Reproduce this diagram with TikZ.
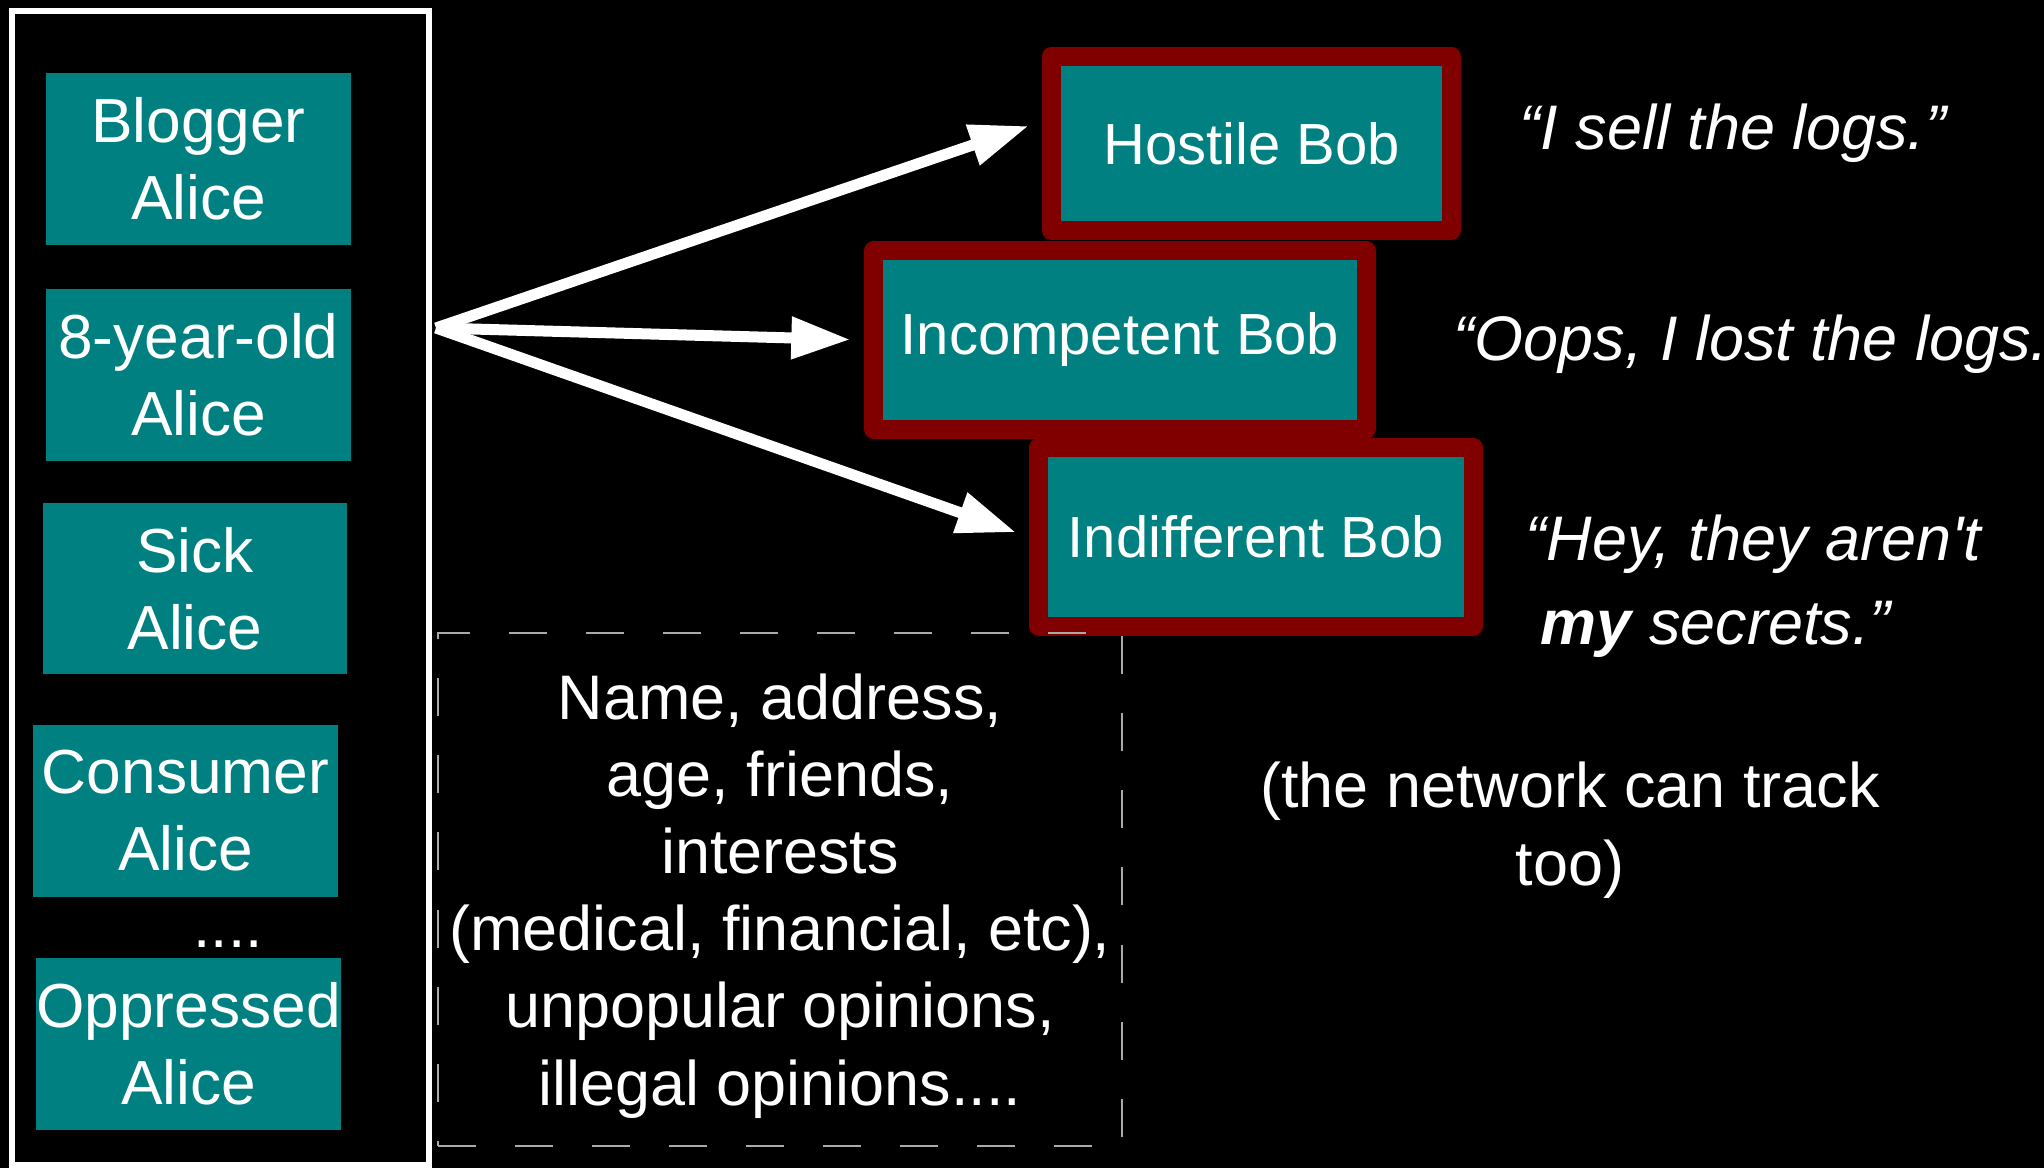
\documentclass[tikz,border=0pt]{standalone}
\usepackage{fontspec}
\setmainfont{Liberation Sans}
\usetikzlibrary{arrows.meta}
\definecolor{aliceteal}{HTML}{008080}
\definecolor{bobred}{HTML}{800000}
\definecolor{dashgray}{HTML}{AAAAAA}

\begin{document}
\begin{tikzpicture}[x=0.01cm, y=-0.01cm,
    alicebox/.style={fill=aliceteal, text=white, inner sep=0pt, minimum width=3.05cm, minimum height=1.72cm, align=center, font=\fontsize{17.7}{21.9}\selectfont},
    bobbox/.style={fill=aliceteal, draw=bobred, line width=0.19cm, line join=round, text=white, inner sep=0pt, minimum height=1.78cm, font=\fontsize{16.5}{20}\selectfont},
    saying/.style={text=white, inner sep=0pt, font=\fontsize{17.9}{22.4}\selectfont\itshape},
    fanarrow/.style={white, line width=0.11cm, -{Triangle[length=0.59cm, width=0.4cm]}, shorten >=0.14cm}]
        % background
        \fill[black] (0,0) rectangle (2044,1168);
        \useasboundingbox (0,0) rectangle (2044,1168);

        % the many Alices
        \node[draw=white, line width=0.06cm, minimum width=4.165cm, minimum height=11.535cm, inner sep=0pt] (cast) at (220.75,588.25) {};
        \node[alicebox] (blogger) at (198.5,159) {Blogger\\Alice};
        \node[alicebox] (child) at (198.5,375) {8-year-old\\Alice};
        \node[alicebox, minimum width=3.04cm, minimum height=1.71cm] (sick) at (195,588.5) {Sick\\Alice};
        \node[alicebox] (consumer) at (185.5,811) {Consumer\\Alice};
        \node[alicebox] (oppressed) at (188.5,1044) {Oppressed\\Alice};
        \node[text=white, inner sep=0pt, anchor=base, font=\fontsize{17.7}{21.9}\selectfont] (more) at (228,948) {....};

        % the Bobs
        \node[bobbox, minimum width=4cm, minimum height=1.74cm] (hostile) at (1251.5,143.5) {Hostile Bob};
        \node[bobbox, minimum width=4.92cm] (incompetent) at (1120,340) {Incompetent Bob};
        \node[bobbox, minimum width=4.345cm] (indifferent) at (1256,537) {Indifferent Bob};

        % what the Bobs say
        \node[saying, anchor=base west] (sell) at (1519,150) {“I sell the logs.”};
        \node[saying, anchor=base west] (lost) at (1453,361) {“Oops, I lost the logs.};
        \node[saying, align=left, anchor=west, font=\fontsize{17.9}{24}\selectfont\itshape] (secrets) at (1525,586.5) {“Hey, they aren\textquotesingle t\\\hspace*{0.15cm}\textbf{my} secrets.”};

        % network note
        \node[text=white, inner sep=0pt, align=center, font=\fontsize{17.9}{22.2}\selectfont] (network) at (1570,830.5) {(the network can track\\too)};

        % the data
        \node[draw=dashgray, line width=0.02cm, dash pattern=on 0.38cm off 0.39cm, minimum width=6.84cm, minimum height=5.12cm, inner sep=0pt, text=white, align=center, font=\fontsize{17.9}{21.9}\selectfont] (facts) at (780,889.5) {\rule{0pt}{0.59cm}Name, address,\\age, friends,\\interests\\(medical, financial, etc),\\unpopular opinions,\\illegal opinions....};

        % arrows
        \coordinate (fan) at (436,328);
        \draw[fanarrow] (fan) -- ([yshift=0.22cm]hostile.west);
        \draw[fanarrow] (fan) -- (incompetent.west);
        \draw[fanarrow] (fan) -- (indifferent.west);
\end{tikzpicture}
\end{document}
